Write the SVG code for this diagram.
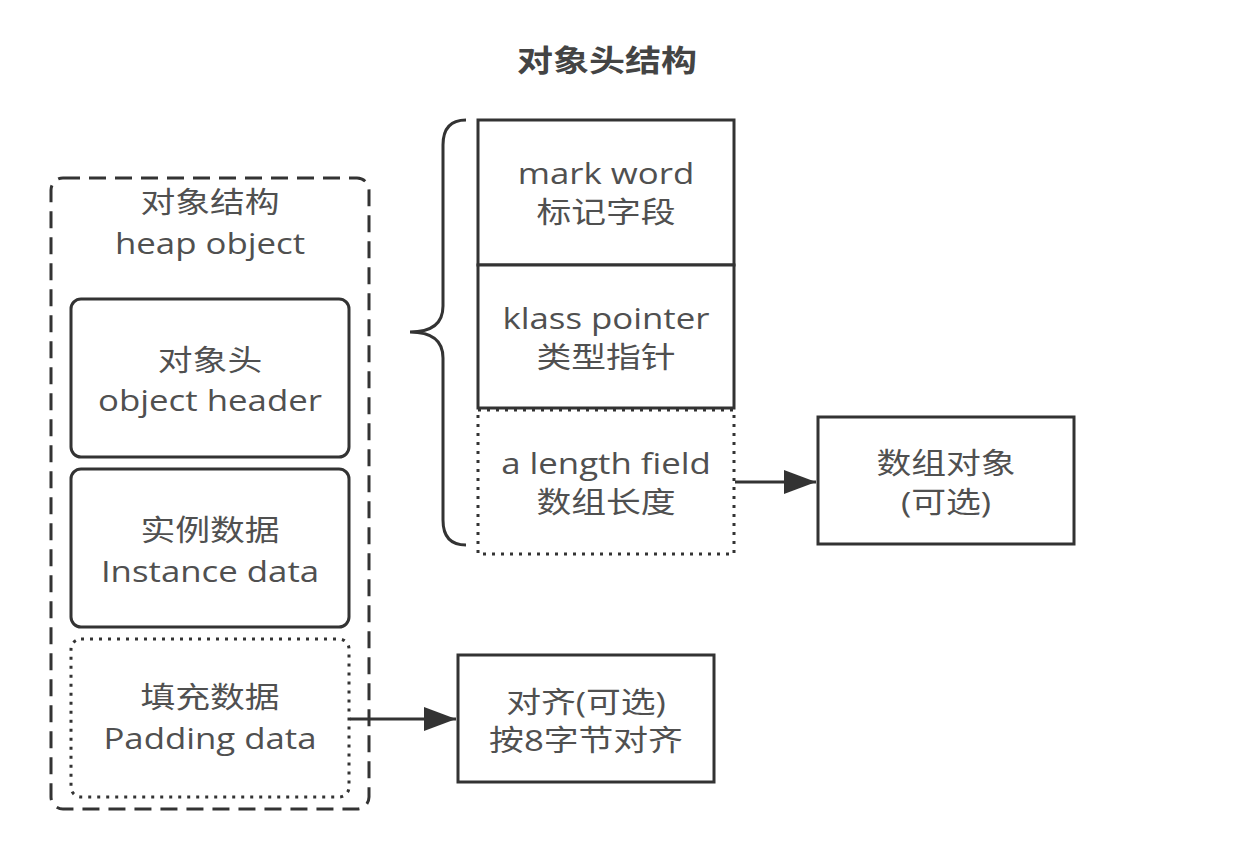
<svg xmlns="http://www.w3.org/2000/svg" width="1244" height="866" viewBox="0 0 1244 866">
<style>
.t{font-family:"Open Sans","Noto Sans CJK SC",sans-serif;font-size:29px;fill:#505050;text-anchor:middle}
.title{font-family:"Open Sans","Noto Sans CJK SC",sans-serif;font-size:30px;font-weight:bold;fill:#444;text-anchor:middle}
.box{fill:#fff;stroke:#333;stroke-width:3}
.dot{fill:#fff;stroke:#333;stroke-width:3;stroke-dasharray:3 6}
.dash{fill:none;stroke:#333;stroke-width:3;stroke-dasharray:17 9}
.edge{fill:none;stroke:#333;stroke-width:3}
</style>
<defs>
<marker id="arr" markerUnits="userSpaceOnUse" markerWidth="34" markerHeight="24" refX="32" refY="12" orient="auto">
<path d="M0,0 L32,12 L0,24 Z" fill="#333"/>
</marker>
</defs>
<rect width="1244" height="866" fill="#fff"/>
<g id="title"><text class="title" transform="translate(607,71) scale(1.2,1)">对象头结构</text></g>
<g id="heap-object">
<rect class="dash" x="51" y="178" width="318" height="631" rx="12"/>
<text class="t" transform="translate(210,213) scale(1.2,1)">对象结构</text>
<text class="t" transform="translate(210,254) scale(1.2,1)">heap object</text>
</g>
<g id="object-header">
<rect class="box" x="71" y="299" width="278" height="158" rx="10"/>
<text class="t" transform="translate(210,371) scale(1.2,1)">对象头</text>
<text class="t" transform="translate(210,411) scale(1.2,1)">object header</text>
</g>
<g id="instance-data">
<rect class="box" x="71" y="469" width="278" height="158" rx="10"/>
<text class="t" transform="translate(210,541) scale(1.2,1)">实例数据</text>
<text class="t" transform="translate(210,582) scale(1.2,1)">Instance data</text>
</g>
<g id="padding-data">
<rect class="dot" x="71" y="639" width="278" height="158" rx="10"/>
<text class="t" transform="translate(210,708) scale(1.2,1)">填充数据</text>
<text class="t" transform="translate(210,749) scale(1.2,1)">Padding data</text>
</g>
<g id="brace"><path class="edge" d="M466,120 Q443,120 443,145 L443,306 Q443,332 410,332 Q443,332 443,358 L443,520 Q443,545 466,545"/></g>
<g id="mark-word">
<rect class="box" x="478" y="120" width="256" height="145"/>
<text class="t" transform="translate(606,184) scale(1.2,1)">mark word</text>
<text class="t" transform="translate(606,223) scale(1.2,1)">标记字段</text>
</g>
<g id="klass-pointer">
<rect class="box" x="478" y="265" width="256" height="143"/>
<text class="t" transform="translate(606,329) scale(1.2,1)">klass pointer</text>
<text class="t" transform="translate(606,368) scale(1.2,1)">类型指针</text>
</g>
<g id="length-field">
<rect class="dot" x="478" y="410" width="256" height="144"/>
<text class="t" transform="translate(606,474) scale(1.2,1)">a length field</text>
<text class="t" transform="translate(606,513) scale(1.2,1)">数组长度</text>
</g>
<g id="array-object">
<rect class="box" x="818" y="417" width="256" height="127"/>
<text class="t" transform="translate(946,474) scale(1.2,1)">数组对象</text>
<text class="t" transform="translate(946,513) scale(1.2,1)">(可选)</text>
</g>
<g id="align">
<rect class="box" x="458" y="655" width="256" height="127"/>
<text class="t" transform="translate(586,713) scale(1.2,1)">对齐(可选)</text>
<text class="t" transform="translate(586,751) scale(1.2,1)">按8字节对齐</text>
</g>
<g id="connectors">
<line class="edge" x1="735" y1="482" x2="816" y2="482" marker-end="url(#arr)"/>
<line class="edge" x1="350" y1="719" x2="456" y2="719" marker-end="url(#arr)"/>
</g>
</svg>
